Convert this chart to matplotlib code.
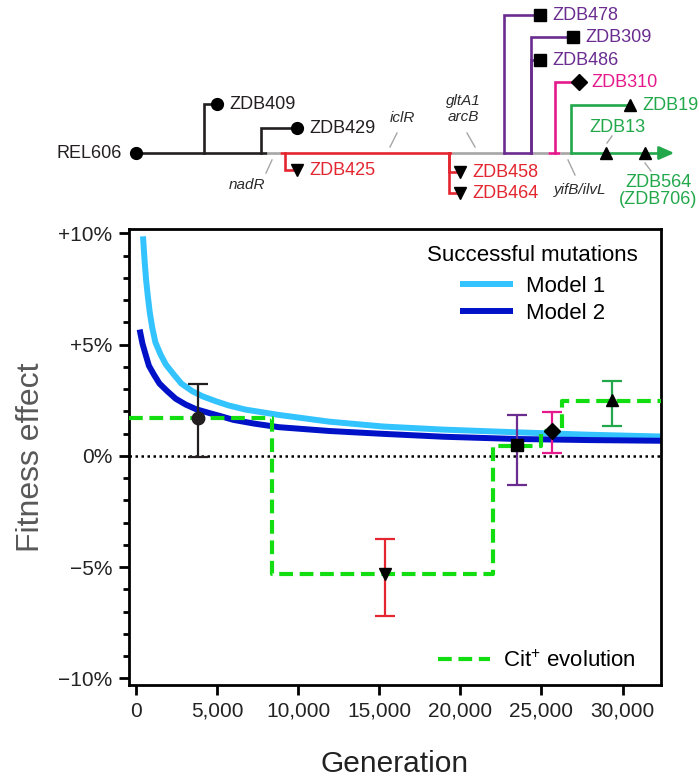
import numpy as np
import matplotlib
matplotlib.use("Agg")
import matplotlib.pyplot as plt
from matplotlib.lines import Line2D

plt.rcParams["font.family"] = ["Liberation Sans", "DejaVu Sans"]
plt.rcParams["mathtext.fontset"] = "custom"
plt.rcParams["mathtext.rm"] = "Liberation Sans"
plt.rcParams["mathtext.it"] = "Liberation Sans:italic"

# ------------------ DATA ------------------ #
# model curves (generation, fitness effect %)
m1_gen = [432, 534, 620, 720, 850, 1007, 1200, 1520, 1850, 2340, 2800, 3470, 4100, 4910,
          5700, 6760, 8820, 11900, 15250, 19000, 23470, 28000, 32370]
m1_fit = [9.87, 8.75, 7.95, 7.25, 6.45, 5.75, 5.10, 4.55, 4.10, 3.65, 3.25, 2.91, 2.68, 2.46,
          2.27, 2.08, 1.84, 1.54, 1.32, 1.18, 1.06, 0.95, 0.87]
m2_gen = [226, 400, 596, 800, 1110, 1450, 1930, 2450, 3060, 3700, 4500, 5300, 6000, 7300,
          8820, 11900, 15250, 19000, 23470, 28000, 32370]
m2_fit = [5.68, 5.05, 4.55, 4.05, 3.65, 3.25, 2.91, 2.57, 2.31, 2.10, 1.93, 1.77, 1.62, 1.45,
          1.29, 1.12, 0.99, 0.86, 0.76, 0.71, 0.68]

# Cit+ evolution step line
cit_edges = [-430, 8370, 22030, 24970, 26280, 32370]
cit_level = [1.72, -5.32, 0.45, 1.12, 2.47]

# clone measurements
clone_gen = [3820, 15350, 23490, 25630, 29370]
clone_fit = [1.72, -5.32, 0.48, 1.12, 2.50]
clone_lo = [-0.04, -7.19, -1.30, 0.12, 1.36]
clone_hi = [3.24, -3.74, 1.83, 1.98, 3.38]
clone_mk = ["o", "v", "s", "D", "^"]

BLACK = "#231f20"
RED = "#e3262f"
PURPLE = "#6a2c8f"
PINK = "#e5198b"
GREEN = "#22a84b"
GRAY = "#a6a6a6"
clone_col = [BLACK, RED, PURPLE, PINK, GREEN]

yticks = [-10, -5, 0, 5, 10]
ytick_lbl = ["\u221210%", "\u22125%", "0%", "+5%", "+10%"]
xticks = [0, 5000, 10000, 15000, 20000, 25000, 30000]
xtick_lbl = ["0", "5,000", "10,000", "15,000", "20,000", "25,000", "30,000"]

# tree schematic (pixel layout, y down)
TREE_Y = 153
trunk_x0 = [136, 267, 280, 452, 503, 533, 548, 560, 570]
trunk_x1 = [267, 280, 452, 503, 533, 548, 560, 570, 668]
trunk_c = [BLACK, GRAY, RED, GRAY, PURPLE, GRAY, PINK, GRAY, GREEN]

br_name = ["ZDB409", "ZDB429", "ZDB425", "ZDB458", "ZDB464", "ZDB478", "ZDB309", "ZDB486", "ZDB310", "ZDB19"]
br_x = [204, 261, 285, 449, 449, 504, 531, 531, 555, 571]
br_y = [104, 128, 170, 172, 193, 15, 37, 60, 82, 105]
br_tip = [217, 297, 297, 460, 460, 540, 573, 540, 579, 630]
br_c = [BLACK, BLACK, RED, RED, RED, PURPLE, PURPLE, PURPLE, PINK, GREEN]
br_mk = ["o", "o", "v", "v", "v", "s", "s", "s", "D", "^"]

genes = ["nadR", "iclR", "gltA1\narcB", "yifB/ilvL"]
gene_xy = [(247, 185), (402, 118), (463, 109), (580, 190)]
gene_tick = [((272, 160), (266, 173)), ((397, 133), (390, 147)),
             ((467, 133), (475, 147)), ((568, 160), (575, 175))]

# ------------------ FIGURE ------------------ #
fig = plt.figure(figsize=(6.99, 7.78), dpi=100)

tr = fig.add_axes([0, 0, 1, 1])
tr.set_xlim(0, 699)
tr.set_ylim(778, 0)
tr.axis("off")
tr.patch.set_alpha(0)

for x0, x1, c in zip(trunk_x0, trunk_x1, trunk_c):
    tr.plot([x0, x1], [TREE_Y, TREE_Y], color=c, lw=1.9, solid_capstyle="butt")
tr.annotate("", xy=(677, TREE_Y), xytext=(660, TREE_Y),
            arrowprops=dict(arrowstyle="-|>,head_length=0.9,head_width=0.4", color=GREEN, lw=1.9))
tr.plot(136, TREE_Y, "o", color="black", ms=8.5)
tr.text(122, TREE_Y, "REL606", ha="right", va="center", fontsize=13, color=BLACK)

for name, bx, by, tip, c, mk in zip(br_name, br_x, br_y, br_tip, br_c, br_mk):
    tr.plot([bx, bx, tip], [TREE_Y, by, by], color=c, lw=1.9, solid_joinstyle="miter")
    tr.plot(tip, by, mk, color="black", ms=8.5 if mk != "D" else 8)
    tr.text(tip + 12, by, name, ha="left", va="center", fontsize=13, color=c)

# clones sitting on the trunk
tr.plot([606, 645], [TREE_Y, TREE_Y], "^", color="black", ms=8.5, ls="none")
tr.plot([607, 612], [143, 136], color=GRAY, lw=1)
tr.text(617, 127, "ZDB13", ha="center", va="center", fontsize=13, color=GREEN)
tr.plot([645, 651], [163, 171], color=GRAY, lw=1)
tr.text(658, 191, "ZDB564\n(ZDB706)", ha="center", va="center", fontsize=13, color=GREEN,
        linespacing=1.0)

for g, (gx, gy), (p0, p1) in zip(genes, gene_xy, gene_tick):
    tr.text(gx, gy, g, ha="center", va="center", fontsize=11, style="italic",
            color="#2b2b2b", linespacing=1.15)
    tr.plot([p0[0], p1[0]], [p0[1], p1[1]], color=GRAY, lw=1)

# ------------------ MAIN PLOT ------------------ #
ax = fig.add_axes([129 / 699, 1 - 685 / 778, 532 / 699, 456 / 778])
ax.set_xlim(-430, 32370)
ax.set_ylim(-10.3, 10.2)

ax.axhline(0, color="black", lw=1.8, ls=(0, (1, 1.4)), zorder=1)
l1, = ax.plot(m1_gen, m1_fit, color="#33c3ff", lw=4.3, solid_capstyle="butt",
              solid_joinstyle="round", zorder=2)
l2, = ax.plot(m2_gen, m2_fit, color="#0012c8", lw=4.3, solid_capstyle="butt",
              solid_joinstyle="round", zorder=2)

cx = cit_edges
cy = cit_level + [cit_level[-1]]
lc, = ax.step(cx, cy, where="post", color="#11dd11", lw=3, dashes=(3.3, 1.6), zorder=3)

for g, f, lo, hi, mk, c in zip(clone_gen, clone_fit, clone_lo, clone_hi, clone_mk, clone_col):
    ax.errorbar([g], [f], yerr=[[f - lo], [hi - f]], fmt="none", ecolor=c,
                elinewidth=1.6, capsize=7.5, capthick=1.6, zorder=4)
    ax.plot(g, f, mk, color=BLACK if mk == "o" else "black", ms=9 if mk != "D" else 8.5, zorder=5)

for s in ax.spines.values():
    s.set_linewidth(2)
ax.set_yticks(yticks)
ax.set_yticklabels(ytick_lbl)
ax.set_yticks(np.arange(-10, 11, 1), minor=True)
ax.set_xticks(xticks)
ax.set_xticklabels(xtick_lbl)
ax.tick_params(axis="both", which="major", direction="out", length=7, width=2,
               labelsize=15, pad=5, colors="black")
ax.tick_params(axis="y", which="minor", direction="out", length=4, width=2)
ax.tick_params(axis="x", which="minor", bottom=False)
for t in ax.get_xticklabels() + ax.get_yticklabels():
    t.set_color("#222222")

ax.set_xlabel("Generation", fontsize=21.5, color="#222222", labelpad=21)
ax.set_ylabel("Fitness effect", fontsize=23, color="#595959", labelpad=9)

leg1 = ax.legend([l1, l2], ["Model 1", "Model 2"], title="Successful mutations",
                 loc="upper right", bbox_to_anchor=(0.957, 0.964), frameon=False,
                 fontsize=16, title_fontsize=16, handlelength=2.35, handletextpad=0.6,
                 labelspacing=0.25, borderpad=0, borderaxespad=0)
leg1._legend_box.sep = 7
ax.add_artist(leg1)
ax.legend([Line2D([], [], color="#11dd11", lw=3, dashes=(3.3, 1.6))], ["Cit$^{+}$ evolution"],
          loc="lower right", bbox_to_anchor=(0.953, 0.028), frameon=False, fontsize=16,
          handlelength=2.35, handletextpad=0.6, borderpad=0, borderaxespad=0)

fig.savefig("out.png", dpi=100)
